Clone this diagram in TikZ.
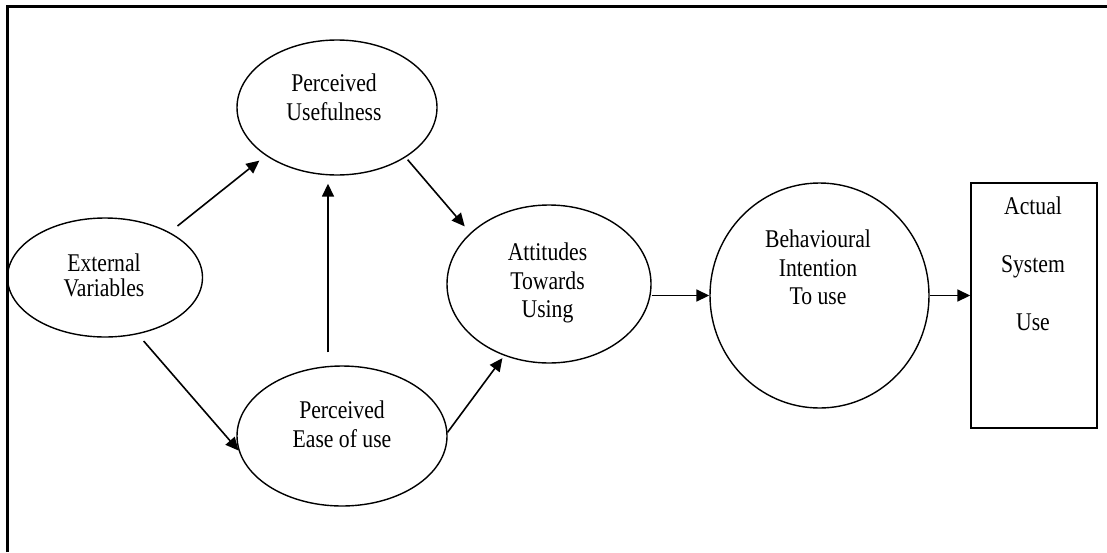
\documentclass[tikz,border=0pt]{standalone}
\usepackage{fontspec}
\setmainfont[FakeStretch=0.85]{Liberation Serif}
\usetikzlibrary{arrows.meta,shapes.geometric}
\begin{document}
\begin{tikzpicture}[x=1pt,y=-1pt,
  elln/.style={ellipse, draw, line width=1.4pt, inner sep=0pt},
  boxn/.style={rectangle, draw, line width=1.4pt, inner sep=0pt},
  txt/.style={align=center, inner sep=0pt, font=\fontsize{25.5}{28.5}\selectfont},
  arr/.style={line width=1.6pt, -{Triangle[length=13pt,width=12pt]}},
  frameline/.style={line width=2.5pt}]
\useasboundingbox (0,0) rectangle (1107,552);
% frame (top and left edges only)
\coordinate (fb) at (7.7,552);
\coordinate (fl) at (7.7,6.3);
\coordinate (fr) at (1107,6.3);
\draw[frameline] (fb) -- (fl) -- (fr);
% shapes
\node[elln, minimum width=200pt, minimum height=135pt] (pu) at (337,107.5) {};
\node[elln, minimum width=195pt, minimum height=119pt] (ext) at (105,277.5) {};
\node[elln, minimum width=210pt, minimum height=140pt] (peou) at (342,436) {};
\node[elln, minimum width=204pt, minimum height=158pt] (att) at (549,284) {};
\node[elln, minimum width=219pt, minimum height=225pt] (bi) at (819.5,295.5) {};
\node[boxn, minimum width=126pt, minimum height=245pt] (asu) at (1034,305.5) {};
% texts
\node[txt] (put) at (334,97.5) {Perceived\\Usefulness};
\node[txt, font=\fontsize{25.5}{25}\selectfont] (extt) at (104,275) {External\\Variables};
\node[txt] (peout) at (342,424.5) {Perceived\\Ease of use};
\node[txt] (attt) at (547.5,283) {Attitudes\\Towards\\Using};
\node[txt] (bit) at (818,267.5) {Behavioural\\Intention\\To use};
\node[txt, font=\fontsize{25.5}{58}\selectfont] (asut) at (1033,263.5) {Actual\\System\\Use};
% connectors
\draw[arr, shorten <=10pt, shorten >=8pt] (ext.35) -- (pu.-146);
\draw[arr, shorten <=9pt] (ext.-60) -- (peou.-172);
\draw[arr] ([xshift=-14pt,yshift=13pt]peou.north) -- ([xshift=-9pt,yshift=-8pt]pu.south);
\draw[arr, shorten <=3pt, shorten >=8.5pt] (pu.-36) -- (att.147);
\draw[arr, shorten >=3pt] (peou.2) -- (att.-122);
\draw[arr] (att.east |- bi.west) -- (bi.west);
\draw[arr] (bi.east) -- (bi.east -| asu.west);
\end{tikzpicture}
\end{document}
